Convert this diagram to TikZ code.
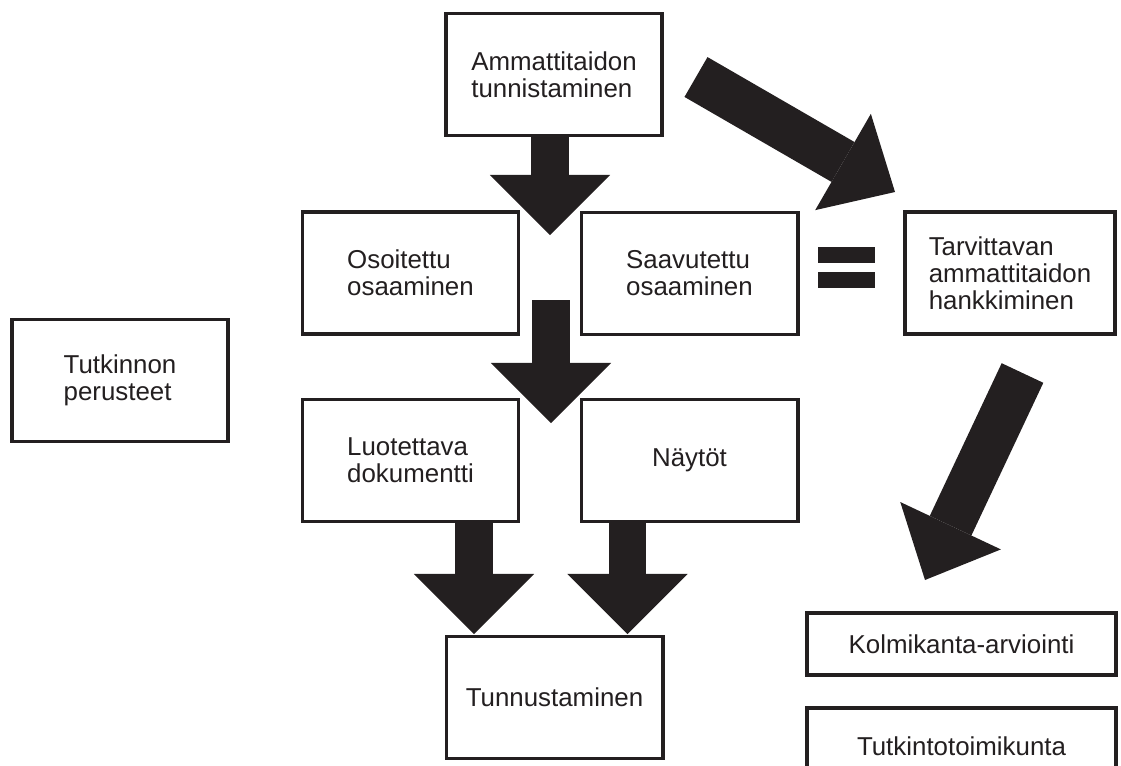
\documentclass[tikz,border=0pt]{standalone}
\usepackage{fontspec}
\setmainfont{Liberation Sans}
\usetikzlibrary{arrows.meta}
\definecolor{NearBlack}{RGB}{35,31,32}

\begin{document}
\begin{tikzpicture}[
    x=0.025cm, y=-0.025cm,
    font=\fontsize{18.4pt}{19.2pt}\selectfont,
    box/.style={draw=NearBlack, line width=2.8pt, fill=white, align=left,
        text=NearBlack, inner sep=0pt,
        minimum width=5.4cm, minimum height=3.05cm},
    widebox/.style={box, minimum width=7.7cm, minimum height=1.55cm},
    flow/.style={NearBlack, line width=0.93cm,
        -{Triangle[length=1.5cm, width=3cm, line width=0pt]}},
    slant/.style={flow, line width=1.15cm,
        -{Triangle[length=1.5cm, width=2.78cm, line width=0pt]}},
]
\useasboundingbox (0,0) rectangle (1121,765);

% laatikot
\node[box] (amm) at (554,74.5) {Ammattitaidon\\tunnistaminen};
\node[box] (oso) at (410.5,273) {Osoitettu\\osaaminen};
\node[box] (saa) at (689.5,273.5) {Saavutettu\\osaaminen};
\node[box, minimum width=5.25cm] (tar) at (1010,273)
    {Tarvittavan\\ammattitaidon\\hankkiminen};
\node[box] (per) at (120,380.5) {Tutkinnon\\perusteet};
\node[box] (luo) at (410.5,460.5) {Luotettava\\dokumentti};
\node[box] (nay) at (689.5,460.5) {Näytöt};
\node[box] (tun) at (554.5,697.5) {Tunnustaminen};
\node[widebox] (kol) at (961.5,644) {Kolmikanta-arviointi};
\node[widebox, minimum height=1.9cm] (tkt) at (961.5,746) {Tutkintotoimikunta};

% nuolten kärjet
\coordinate (t1) at (550,235);
\coordinate (a2) at (551,300);
\coordinate (t2) at (551,423);
\coordinate (t3) at (474,634);
\coordinate (t4) at (627.5,634);
\coordinate (a5) at (696,77);
\coordinate (t5) at (895,192);
\coordinate (a6) at (1022.5,373);
\coordinate (t6) at (925,580);

\draw[flow] (amm.south -| t1) -- (t1);
\draw[flow] (a2) -- (t2);
\draw[flow] (luo.south -| t3) -- (t3);
\draw[flow] (nay.south -| t4) -- (t4);
\draw[slant] (a5) -- (t5);
\draw[slant] (a6) -- (t6);

% yhtäsuuruus
\fill[NearBlack] (818,247) rectangle (875,263);
\fill[NearBlack] (818,272) rectangle (875,288);

\end{tikzpicture}
\end{document}
